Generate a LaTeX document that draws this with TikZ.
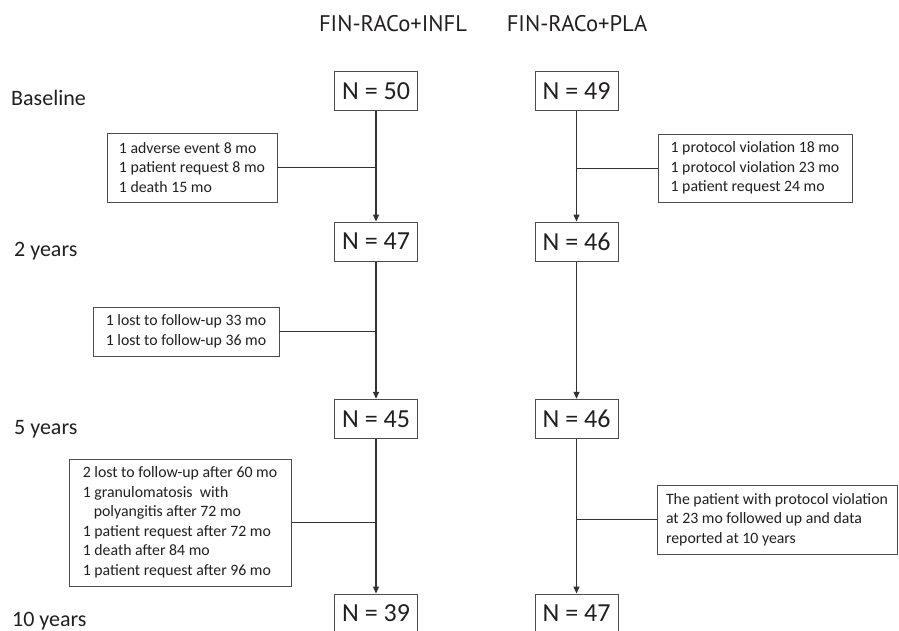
\documentclass[tikz,border=0pt]{standalone}
\usepackage{fontspec}
\setmainfont{Carlito}
\newfontfamily\hdrfont{PT Sans}
\usetikzlibrary{arrows.meta}
\definecolor{txt}{HTML}{231F20}
\definecolor{ln}{HTML}{333333}
\definecolor{bd}{HTML}{4D4D4D}
\tikzset{
  nbox/.style={draw=bd, line width=1pt, minimum width=83pt, minimum height=39pt, inner sep=0pt, text=txt, font=\fontsize{26}{30}\selectfont},
  sidebox/.style={draw=bd, line width=0.9pt, inner sep=0pt, align=left, text=txt, font=\fontsize{15.8}{19.5}\selectfont},
  rowlab/.style={anchor=base west, inner sep=0pt, text=txt, font=\fontsize{22}{26}\selectfont},
  hdr/.style={anchor=base, inner sep=0pt, text=txt, font=\hdrfont\fontsize{22.6}{26}\selectfont},
  flow/.style={draw=ln, line width=1.3pt, -{Triangle[length=7pt,width=6pt]}},
  conn/.style={draw=ln, line width=0.9pt}
}
\begin{document}
\begin{tikzpicture}[x=1pt,y=-1pt]
\clip (0,0) rectangle (899,631);
\fill[white] (0,0) rectangle (899,631);
% headers
\node[hdr] (h1) at (393,32) {FIN-RACo+INFL};
\node[hdr] (h2) at (577,32) {FIN-RACo+PLA};
% row labels
\node[rowlab] (r0) at (11,106) {Baseline};
\node[rowlab] (r2) at (14,256) {2 years};
\node[rowlab] (r5) at (14,434) {5 years};
\node[rowlab] (r10) at (12,626) {10 years};
% N boxes
\node[nbox] (n50) at (376,91) {N = 50};
\node[nbox] (n49) at (576.5,91) {N = 49};
\node[nbox] (n47) at (376,241.5) {N = 47};
\node[nbox] (n46a) at (576.5,241.5) {N = 46};
\node[nbox] (n45) at (376,418.8) {N = 45};
\node[nbox] (n46b) at (576.5,418.8) {N = 46};
\node[nbox] (n39) at (376,613.5) {N = 39};
\node[nbox] (n47b) at (576.5,613.5) {N = 47};
% side boxes
\node[sidebox, minimum width=170pt, minimum height=69pt] (lb1) at (192,167.5)
  {1 adverse event 8 mo\\1 patient request 8 mo\\1 death 15 mo};
\node[sidebox, minimum width=194pt, minimum height=68pt] (rb1) at (755,168)
  {1 protocol violation 18 mo\\1 protocol violation 23 mo\\1 patient request 24 mo};
\node[sidebox, minimum width=186pt, minimum height=49pt] (lb2) at (186,331.5)
  {1 lost to follow-up 33 mo\\1 lost to follow-up 36 mo};
\node[sidebox, minimum width=222pt, minimum height=127pt] (lb3) at (180,522.5)
  {2 lost to follow-up after 60 mo\\1 granulomatosis\ \ with\\\hspace*{11pt}polyangitis after 72 mo\\1 patient request after 72 mo\\1 death after 84 mo\\1 patient request after 96 mo};
\node[sidebox, minimum width=240pt, minimum height=69pt] (rb3) at (777,519.5)
  {The patient with protocol violation\\at 23 mo followed up and data\\reported at 10 years};
% flow arrows
\draw[flow] (n50) -- (n47);
\draw[flow] (n47) -- (n45);
\draw[flow] (n45) -- (n39);
\draw[flow] (n49) -- (n46a);
\draw[flow] (n46a) -- (n46b);
\draw[flow] (n46b) -- (n47b);
% connectors
\draw[conn] (lb1.east) -- (lb1.east -| n50.center);
\draw[conn] (rb1.west) -- (rb1.west -| n49.center);
\draw[conn] (lb2.east) -- (lb2.east -| n47.center);
\draw[conn] (lb3.east) -- (lb3.east -| n45.center);
\draw[conn] (rb3.west) -- (rb3.west -| n46b.center);
\end{tikzpicture}
\end{document}
